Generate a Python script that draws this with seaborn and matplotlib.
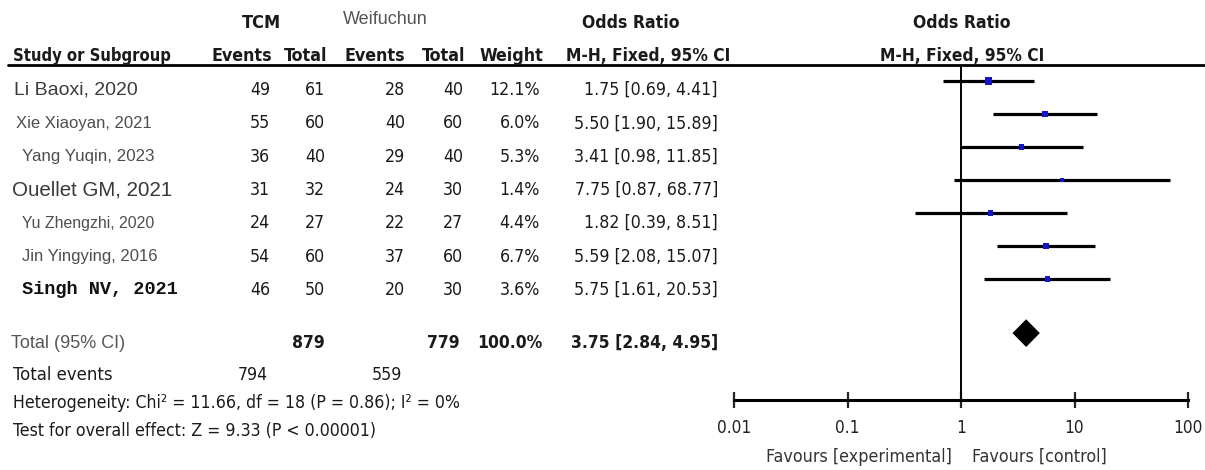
import matplotlib
matplotlib.use("Agg")
import matplotlib.pyplot as plt
from matplotlib import font_manager as fm
from matplotlib.lines import Line2D
from matplotlib.ticker import NullLocator
import seaborn as sns
import pandas as pd

# ---- study data -------------------------------------------------------
studies = ["Li Baoxi, 2020", "Xie Xiaoyan, 2021", "Yang Yuqin, 2023", "Ouellet GM, 2021",
           "Yu Zhengzhi, 2020", "Jin Yingying, 2016", "Singh NV, 2021"]
tcm_events = [49, 55, 36, 31, 24, 54, 46]
tcm_total = [61, 60, 40, 32, 27, 60, 50]
ctl_events = [28, 40, 29, 24, 22, 37, 20]
ctl_total = [40, 60, 40, 30, 27, 60, 30]
weights = [12.1, 6.0, 5.3, 1.4, 4.4, 6.7, 3.6]
or_est = [1.75, 5.50, 3.41, 7.75, 1.82, 5.59, 5.75]
ci_low = [0.69, 1.90, 0.98, 0.87, 0.39, 2.08, 1.61]
ci_high = [4.41, 15.89, 11.85, 68.77, 8.51, 15.07, 20.53]

# ---- pooled result ----------------------------------------------------
total_tcm = 879
total_ctl = 779
total_weight = 100.0
pooled_or = 3.75
pooled_low = 2.84
pooled_high = 4.95
events_tcm = 794
events_ctl = 559
heterogeneity = "Heterogeneity: Chi\u00b2 = 11.66, df = 18 (P = 0.86); I\u00b2 = 0%"
overall_effect = "Test for overall effect: Z = 9.33 (P < 0.00001)"

axis_ticks = [0.01, 0.1, 1, 10, 100]
axis_tick_labels = ["0.01", "0.1", "1", "10", "100"]
favours_left = "Favours [experimental]"
favours_right = "Favours [control]"

# ---- styling ----------------------------------------------------------
sns.set_style("white")
plt.rcParams["font.family"] = ["Liberation Sans", "DejaVu Sans"]

# pick a condensed face for the RevMan-style table text
installed = {f.name for f in fm.fontManager.ttflist}
if "Liberation Sans Narrow" in installed:
    NARROW = ["Liberation Sans Narrow"]
    NARROW_STRETCH = "normal"
    SCALE = 1.18
elif "DejaVu Sans Condensed" in installed:
    NARROW = ["DejaVu Sans Condensed"]
    NARROW_STRETCH = "normal"
    SCALE = 1.0
else:
    NARROW = ["DejaVu Sans"]
    NARROW_STRETCH = "condensed"
    SCALE = 1.0

W, H = 1205, 470
INK = "#1a1a1a"

# per-row label look of the study names
name_styles = [
    dict(x=14, size=14.0, color="#3c3c3c", family=["Liberation Sans"], weight="normal"),
    dict(x=16, size=12.0, color="#4e4e4e", family=["Liberation Sans"], weight="normal"),
    dict(x=22, size=12.2, color="#4e4e4e", family=["Liberation Sans"], weight="normal"),
    dict(x=12, size=14.8, color="#383838", family=["Liberation Sans"], weight="normal"),
    dict(x=22, size=11.4, color="#4e4e4e", family=["Liberation Sans"], weight="normal"),
    dict(x=22, size=12.0, color="#4e4e4e", family=["Liberation Sans"], weight="normal"),
    dict(x=22, size=13.4, color="#111111", family=["Liberation Mono"], weight="bold"),
]

fig = plt.figure(figsize=(W / 100, H / 100), dpi=100)


def fx(x):
    return x / W


def fy(y):
    return 1 - y / H


def put(x, y, s, ha="left", size=12.7, weight="normal", color=INK, family=None, va="center"):
    if family is None:
        fig.text(fx(x), fy(y), s, ha=ha, va=va, fontsize=size * SCALE, fontweight=weight,
                 color=color, family=NARROW, fontstretch=NARROW_STRETCH)
    else:
        fig.text(fx(x), fy(y), s, ha=ha, va=va, fontsize=size, fontweight=weight,
                 color=color, family=family)


# ---- headers ----------------------------------------------------------
put(262, 23, "TCM", ha="center", weight="bold", size=13)
put(385, 20, "Weifuchun", ha="center", size=13, color="#555555", family=["Liberation Sans"])
put(631, 23, "Odds Ratio", ha="center", weight="bold", size=12.6)
put(962, 23, "Odds Ratio", ha="center", weight="bold", size=12.6)

hy = 56
put(13, hy, "Study or Subgroup", weight="bold", size=11.9)
put(242, hy, "Events", ha="center", weight="bold", size=12.8)
put(306, hy, "Total", ha="center", weight="bold", size=12.8)
put(375, hy, "Events", ha="center", weight="bold", size=12.8)
put(444, hy, "Total", ha="center", weight="bold", size=12.8)
put(511, hy, "Weight", ha="center", weight="bold", size=12.8)
put(566, hy, "M-H, Fixed, 95% CI", weight="bold", size=12.4)
put(962, hy, "M-H, Fixed, 95% CI", ha="center", weight="bold", size=12.4)

fig.add_artist(Line2D([fx(8), fx(W)], [fy(65), fy(65)], transform=fig.transFigure,
                      color="black", lw=2.0))

# ---- study rows -------------------------------------------------------
row_y0, row_step = 90, 33.3
for i, name in enumerate(studies):
    y = row_y0 + row_step * i
    st = name_styles[i]
    put(st["x"], y, name, size=st["size"], color=st["color"], family=st["family"],
        weight=st["weight"])
    put(270, y, str(tcm_events[i]), ha="right")
    put(325, y, str(tcm_total[i]), ha="right")
    put(405, y, str(ctl_events[i]), ha="right")
    put(463, y, str(ctl_total[i]), ha="right")
    put(540, y, f"{weights[i]:.1f}%", ha="right")
    put(718, y, f"{or_est[i]:.2f} [{ci_low[i]:.2f}, {ci_high[i]:.2f}]", ha="right")

# ---- totals -----------------------------------------------------------
ty = 343
put(11, ty, "Total (95% CI)", size=13, color="#555555", family=["Liberation Sans"])
put(325, ty, str(total_tcm), ha="right", weight="bold", size=12.5)
put(460, ty, str(total_ctl), ha="right", weight="bold", size=12.5)
put(542, ty, f"{total_weight:.1f}%", ha="right", weight="bold", size=12.5)
put(718, ty, f"{pooled_or:.2f} [{pooled_low:.2f}, {pooled_high:.2f}]", ha="right",
    weight="bold", size=12.5)

put(13, 375, "Total events", size=13.2)
put(268, 375, str(events_tcm), ha="right")
put(402, 375, str(events_ctl), ha="right")
put(13, 403, heterogeneity)
put(13, 431, overall_effect)

# ---- forest panel -----------------------------------------------------
ax = fig.add_axes([fx(734), fy(400), (1188 - 734) / W, (400 - 65) / H])
ax.set_xscale("log")
ax.set_xlim(axis_ticks[0], axis_ticks[-1])
row_top, row_bottom = -0.485, 9.667
ax.set_ylim(row_bottom, row_top)
ax.set_facecolor("none")

df = pd.DataFrame({"study": studies, "row": range(len(studies)), "or": or_est,
                   "lo": ci_low, "hi": ci_high, "weight": weights})

ax.axvline(1, color="black", lw=1.4, zorder=1)
ax.hlines(df["row"], df["lo"], df["hi"], color="black", lw=2.3, zorder=2)
sns.scatterplot(data=df, x="or", y="row", size="weight", sizes=(10, 28), marker="s",
                color="#1414c8", linewidth=0, legend=False, ax=ax, zorder=3)

pooled_row = 7.64
half_h = 0.42
ax.fill([pooled_low, pooled_or, pooled_high, pooled_or],
        [pooled_row, pooled_row - half_h, pooled_row, pooled_row + half_h],
        color="black", lw=0, zorder=3)

for side in ("top", "left", "right"):
    ax.spines[side].set_visible(False)
ax.spines["bottom"].set_linewidth(2.2)
ax.spines["bottom"].set_color("black")
ax.set_yticks([])
ax.set_xticks(axis_ticks)
ax.set_xticklabels(axis_tick_labels, family=NARROW, fontstretch=NARROW_STRETCH,
                   fontsize=12.3 * SCALE, color="#222222")
ax.xaxis.set_minor_locator(NullLocator())
ax.tick_params(axis="x", direction="inout", length=12, width=1.6, pad=8, bottom=True)
ax.set_xlabel("")
ax.set_ylabel("")

put(952, 457, favours_left, ha="right", size=12.8, color="#333333")
put(972, 457, favours_right, ha="left", size=12.8, color="#333333")

fig.savefig("out.png", dpi=100)
